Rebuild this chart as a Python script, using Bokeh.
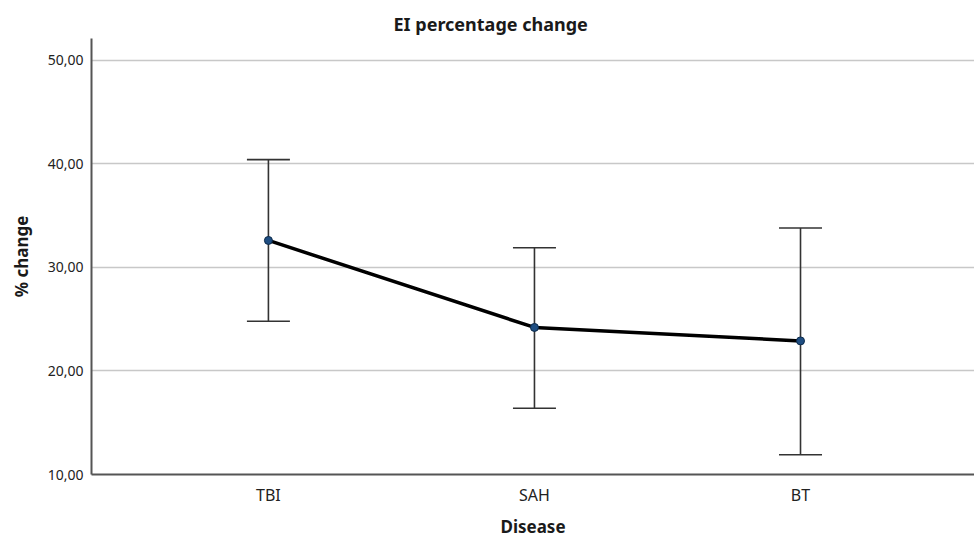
from bokeh.plotting import figure
from bokeh.models import ColumnDataSource, Range1d, FixedTicker, Whisker, TeeHead
from bokeh.embed import file_html
from bokeh.resources import INLINE

categories = ["TBI", "SAH", "BT"]
means = [32.6, 24.2, 22.9]
upper = [40.4, 31.9, 33.8]
lower = [24.8, 16.4, 11.9]
y_ticks = [10, 20, 30, 40, 50]
y_tick_labels = ["10,00", "20,00", "30,00", "40,00", "50,00"]

xs = list(range(len(categories)))
src = ColumnDataSource(dict(x=xs, mean=means, upper=upper, lower=lower))

FONT = "Noto Sans"

p = figure(width=974, height=540, output_backend="svg", toolbar_location=None,
           x_range=Range1d(-0.665, 2.654), y_range=Range1d(10, 52.1),
           min_border_left=91, min_border_right=0, min_border_top=38, min_border_bottom=60)
p.outline_line_color = None
p.background_fill_color = "white"
p.border_fill_color = "white"

p.title.text = "EI percentage change"
p.title.align = "left"
p.title.offset = 302
p.title.standoff = 6
p.title.text_font = FONT
p.title.text_font_size = "18px"
p.title.text_font_style = "bold"
p.title.text_color = "#1a1a1a"

# axes
p.xaxis.ticker = FixedTicker(ticks=xs)
p.xaxis.major_label_overrides = {i: c for i, c in enumerate(categories)}
p.yaxis.ticker = FixedTicker(ticks=y_ticks)
p.yaxis.major_label_overrides = {t: l for t, l in zip(y_ticks, y_tick_labels)}

for ax in (p.xaxis[0], p.yaxis[0]):
    ax.major_tick_line_color = None
    ax.minor_tick_line_color = None
    ax.axis_line_color = "#555555"
    ax.axis_line_width = 2
    ax.major_label_text_font = FONT
    ax.axis_label_text_font = FONT
    ax.axis_label_text_font_style = "bold"
    ax.axis_label_text_color = "#1a1a1a"
    ax.major_label_text_color = "#222222"

p.xaxis.axis_label = "Disease"
p.xaxis.axis_label_text_font_size = "17px"
p.xaxis.major_label_text_font_size = "16px"
p.xaxis.major_label_standoff = 3
p.xaxis.axis_label_standoff = 6

p.yaxis.axis_label = "% change"
p.yaxis.axis_label_text_font_size = "17px"
p.yaxis.major_label_text_font_size = "14px"
p.yaxis.major_label_standoff = 2
p.yaxis.axis_label_standoff = 12

p.xgrid.grid_line_color = None
p.ygrid.grid_line_color = "#c8c8c8"
p.ygrid.grid_line_width = 1.5

w = Whisker(base="x", upper="upper", lower="lower", source=src, dimension="height",
            line_color="#333333", line_width=1.6,
            upper_head=TeeHead(size=43, line_color="#333333", line_width=1.6),
            lower_head=TeeHead(size=43, line_color="#333333", line_width=1.6))
p.add_layout(w)

p.line("x", "mean", source=src, line_color="black", line_width=3.5)
p.scatter("x", "mean", source=src, size=8, fill_color="#1f4e82", line_color="#0c2a4a", line_width=1)

open("out.html", "w").write(file_html(p, INLINE))
